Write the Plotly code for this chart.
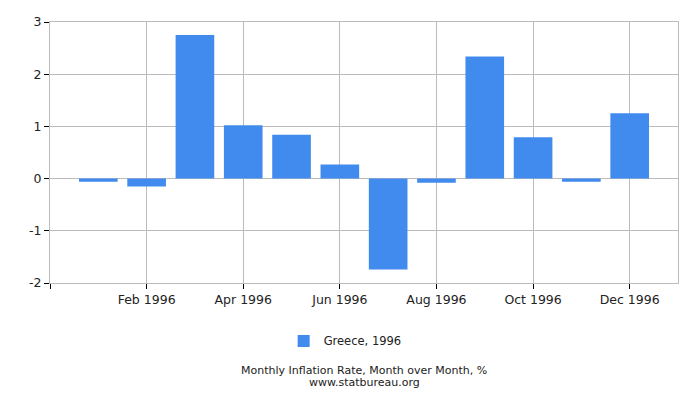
import plotly.graph_objects as go

# Monthly inflation, Greece 1996 (month over month, %)
months = list(range(1, 13))
values = [-0.06, -0.15, 2.75, 1.02, 0.84, 0.27, -1.74, -0.08, 2.34, 0.79, -0.06, 1.25]
tick_months = [0, 2, 4, 6, 8, 10, 12]
tick_labels = ['', 'Feb 1996', 'Apr 1996', 'Jun 1996', 'Aug 1996', 'Oct 1996', 'Dec 1996']
y_ticks = [-2, -1, 0, 1, 2, 3]
y_labels = ['-2', '-1', '0', '1', '2', '3']

fig = go.Figure()
fig.add_trace(go.Bar(
    x=months,
    y=values,
    name='Greece, 1996',
    marker=dict(color='#428BEE', line=dict(width=0)),
    width=0.8,
))

font = dict(family='DejaVu Sans', size=12.5, color='#222222')

# page body has an 8px margin, so the figure is a bit smaller than the window
fig.update_layout(
    width=684, height=384,
    margin=dict(l=42, r=14, t=14, b=109),
    plot_bgcolor='white',
    paper_bgcolor='white',
    font=font,
    showlegend=True,
    legend=dict(orientation='h', x=0.47, xanchor='center', y=-0.222, yanchor='middle',
                font=dict(family='DejaVu Sans', size=11.5, color='#222222')),
    xaxis=dict(
        range=[0, 13],
        tickvals=tick_months,
        ticktext=tick_labels,
        showgrid=True, gridcolor='#BBBBBB', gridwidth=1,
        ticks='outside', ticklen=5, tickcolor='#000000',
        showline=True, linecolor='#BBBBBB', mirror=True,
        zeroline=False, automargin=False,
        tickfont=font,
    ),
    yaxis=dict(
        range=[-2, 3],
        tickvals=y_ticks,
        ticktext=y_labels,
        showgrid=True, gridcolor='#BBBBBB', gridwidth=1,
        ticks='outside', ticklen=5, tickcolor='#000000',
        showline=True, linecolor='#BBBBBB', mirror=True,
        zeroline=True, zerolinecolor='#BBBBBB', zerolinewidth=1,
        automargin=False,
        tickfont=font,
    ),
    annotations=[
        dict(text='Monthly Inflation Rate, Month over Month, %',
             x=0.5, xref='paper', y=-0.335, yref='paper', xanchor='center', yanchor='middle',
             showarrow=False, font=dict(family='DejaVu Sans', size=11, color='#222222')),
        dict(text='www.statbureau.org',
             x=0.5, xref='paper', y=-0.38, yref='paper', xanchor='center', yanchor='middle',
             showarrow=False, font=dict(family='DejaVu Sans', size=11, color='#222222')),
    ],
)

fig.write_html("out.html")
